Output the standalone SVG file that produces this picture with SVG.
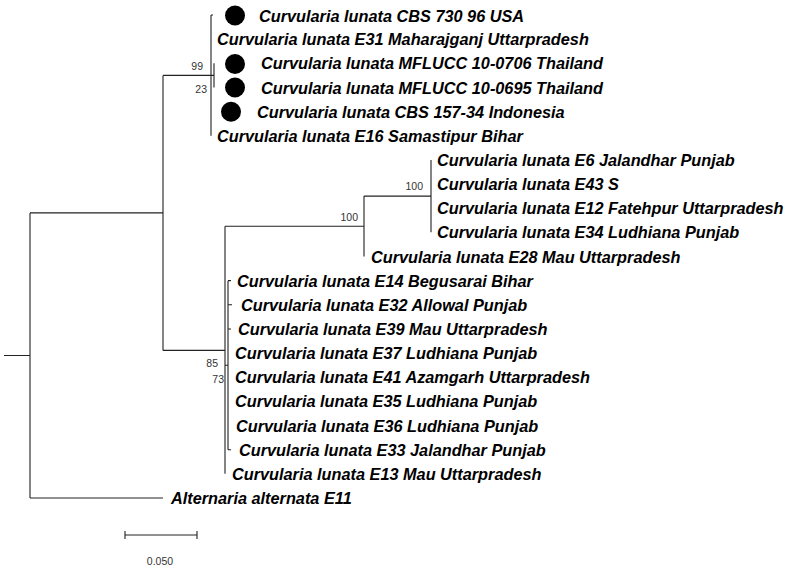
<svg xmlns="http://www.w3.org/2000/svg" width="790" height="572" viewBox="0 0 790 572">
<style>
.tx{font-family:"Liberation Sans",Arial,sans-serif;font-size:16.3px;font-weight:bold;font-style:italic;fill:#000}
.bs{font-family:"Liberation Sans",Arial,sans-serif;font-size:10.5px;fill:#333;text-anchor:end}
.sc{font-family:"Liberation Sans",Arial,sans-serif;font-size:10.5px;fill:#333;text-anchor:middle}
.ln{fill:none;stroke:#222;stroke-width:1.1}
.dot{fill:#000}
</style>
<rect width="790" height="572" fill="#fff"/>
<g id="connectors" class="ln">
<path d="M4,355.5H30M30,212.9V498M30,212.9H163M30,498H163"/>
<path d="M163,75.4V350.4M163,75.4H214M211,15V135.75M211,15H213M214,63.3V87.45"/>
<path d="M163,350.4H225M225,226.3V473.85M225,226.3H364M364,196.1V256.5M364,196.1H431M431,159.9V232.35"/>
<path d="M225,365.2H228M228,280.65V449.7M228,280.65H231M228,304.8H232M228,328.95H231M228,449.7H231"/>
</g>
<g id="support">
<text class="bs" x="203" y="70">99</text>
<text class="bs" x="207" y="93">23</text>
<text class="bs" x="423" y="190">100</text>
<text class="bs" x="358" y="221">100</text>
<text class="bs" x="218" y="367">85</text>
<text class="bs" x="224" y="383">73</text>
</g>
<g id="leaf-cbs73096"><circle class="dot" cx="235" cy="15.5" r="10"/><text class="tx" x="259" y="21.5">Curvularia lunata CBS 730 96 USA</text></g>
<g id="leaf-e31"><text class="tx" x="217" y="45.2">Curvularia lunata E31 Maharajganj Uttarpradesh</text></g>
<g id="leaf-mflucc0706"><circle class="dot" cx="235" cy="64" r="10"/><text class="tx" x="261" y="69.3">Curvularia lunata MFLUCC 10-0706 Thailand</text></g>
<g id="leaf-mflucc0695"><circle class="dot" cx="235" cy="87.5" r="10"/><text class="tx" x="261" y="93.5">Curvularia lunata MFLUCC 10-0695 Thailand</text></g>
<g id="leaf-cbs15734"><circle class="dot" cx="231" cy="111.7" r="10"/><text class="tx" x="257" y="117.6">Curvularia lunata CBS 157-34 Indonesia</text></g>
<g id="leaf-e16"><text class="tx" x="217" y="141.8">Curvularia lunata E16 Samastipur Bihar</text></g>
<g id="leaf-e6"><text class="tx" x="437" y="165.9">Curvularia lunata E6 Jalandhar Punjab</text></g>
<g id="leaf-e43"><text class="tx" x="437" y="190">Curvularia lunata E43 S</text></g>
<g id="leaf-e12"><text class="tx" x="437" y="214.2">Curvularia lunata E12 Fatehpur Uttarpradesh</text></g>
<g id="leaf-e34"><text class="tx" x="437" y="238.4">Curvularia lunata E34 Ludhiana Punjab</text></g>
<g id="leaf-e28"><text class="tx" x="371" y="262.5">Curvularia lunata E28 Mau Uttarpradesh</text></g>
<g id="leaf-e14"><text class="tx" x="237" y="286.6">Curvularia lunata E14 Begusarai Bihar</text></g>
<g id="leaf-e32"><text class="tx" x="241" y="310.8">Curvularia lunata E32 Allowal Punjab</text></g>
<g id="leaf-e39"><text class="tx" x="238" y="335">Curvularia lunata E39 Mau Uttarpradesh</text></g>
<g id="leaf-e37"><text class="tx" x="235" y="359.1">Curvularia lunata E37 Ludhiana Punjab</text></g>
<g id="leaf-e41"><text class="tx" x="235" y="383.2">Curvularia lunata E41 Azamgarh Uttarpradesh</text></g>
<g id="leaf-e35"><text class="tx" x="235" y="407.4">Curvularia lunata E35 Ludhiana Punjab</text></g>
<g id="leaf-e36"><text class="tx" x="236" y="431.5">Curvularia lunata E36 Ludhiana Punjab</text></g>
<g id="leaf-e33"><text class="tx" x="239" y="455.7">Curvularia lunata E33 Jalandhar Punjab</text></g>
<g id="leaf-e13"><text class="tx" x="232" y="479.9">Curvularia lunata E13 Mau Uttarpradesh</text></g>
<g id="leaf-alternaria"><text class="tx" x="171" y="504">Alternaria alternata E11</text></g>
<g id="scale-bar">
<path class="ln" d="M125,535H197M125,531V539M197,531V539"/>
<text class="sc" x="160" y="565">0.050</text>
</g>
</svg>
